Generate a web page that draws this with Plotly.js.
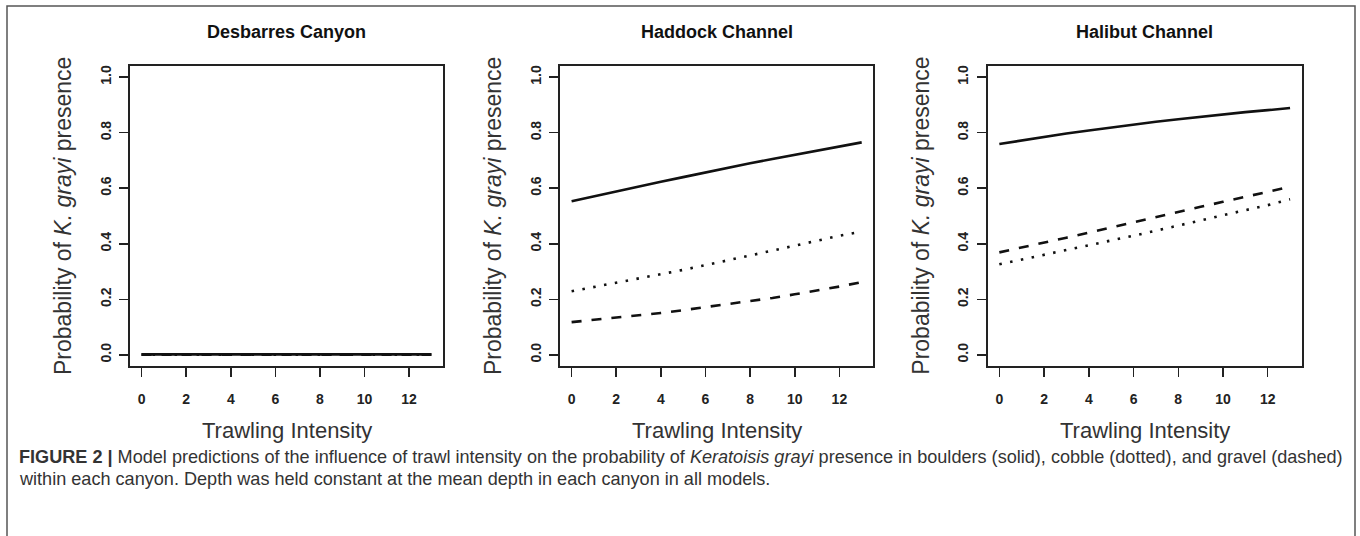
<!DOCTYPE html>
<html>
<head>
<meta charset="utf-8">
<script src="https://cdn.plot.ly/plotly-3.0.1.min.js"></script>
<style>
html,body{margin:0;padding:0;background:#fff;}
#chart{width:1360px;height:536px;}
</style>
</head>
<body>
<div id="chart"></div>
<script>
// ---- Data ----
const trawlIntensity = [0,1,2,3,4,5,6,7,8,9,10,11,12,13];
const panelTitles = ["Desbarres Canyon", "Haddock Channel", "Halibut Channel"];
const xTickVals = [0,2,4,6,8,10,12];
const yTickVals = [0,0.2,0.4,0.6,0.8,1.0];
const yTickText = ["0.0","0.2","0.4","0.6","0.8","1.0"];

// Desbarres Canyon (all substrates ~0)
const desbarresBoulders = [0.002,0.002,0.002,0.002,0.002,0.002,0.002,0.002,0.002,0.002,0.002,0.002,0.002,0.002];
const desbarresCobble   = [0.001,0.001,0.001,0.001,0.001,0.001,0.001,0.001,0.001,0.001,0.001,0.001,0.001,0.001];
const desbarresGravel   = [0.001,0.001,0.001,0.001,0.001,0.001,0.001,0.001,0.001,0.001,0.001,0.001,0.001,0.001];

// Haddock Channel
const haddockBoulders = [0.553,0.571,0.589,0.606,0.623,0.640,0.657,0.674,0.690,0.705,0.720,0.735,0.750,0.765];
const haddockCobble   = [0.229,0.244,0.259,0.274,0.290,0.306,0.323,0.340,0.357,0.375,0.393,0.411,0.429,0.444];
const haddockGravel   = [0.118,0.126,0.134,0.142,0.151,0.161,0.172,0.182,0.193,0.205,0.218,0.231,0.246,0.262];

// Halibut Channel
const halibutBoulders = [0.759,0.772,0.785,0.797,0.808,0.819,0.829,0.839,0.848,0.857,0.866,0.874,0.881,0.889];
const halibutCobble   = [0.326,0.343,0.359,0.376,0.394,0.411,0.429,0.447,0.466,0.484,0.502,0.521,0.539,0.560];
const halibutGravel   = [0.369,0.386,0.404,0.422,0.440,0.459,0.477,0.496,0.514,0.533,0.551,0.569,0.587,0.605];

const captionLine1 = "<b>FIGURE 2 |</b> Model predictions of the influence of trawl intensity on the probability of <i>Keratoisis grayi</i> presence in boulders (solid), cobble (dotted), and gravel (dashed)";
const captionLine2 = "within each canyon. Depth was held constant at the mean depth in each canyon in all models.";
const yTitle = "Probability of <i>K. grayi</i> presence";
const xTitle = "Trawling Intensity";

// ---- Layout geometry (pixels) ----
const W = 1360, H = 536;
const px = v => v / W;
const py = v => 1 - v / H;
const panelLeft  = [130, 560, 987.7];
const panelRight = [443, 873.3, 1301.7];
const plotTop = 66, plotBottom = 366;

const styles = {
  solid:  {color:'#111', width:2.6, dash:'solid'},
  dotted: {color:'#111', width:2.6, dash:'2.5px,8.5px'},
  dashed: {color:'#111', width:2.6, dash:'10px,10px'}
};

const series = [
  [desbarresBoulders, desbarresCobble, desbarresGravel],
  [haddockBoulders, haddockCobble, haddockGravel],
  [halibutBoulders, halibutCobble, halibutGravel]
];
const styleOrder = ['solid','dotted','dashed'];
const names = ['boulders','cobble','gravel'];

const traces = [];
series.forEach((grp, i) => {
  const sfx = i === 0 ? '' : String(i+1);
  [2,1,0].forEach(j => {
    traces.push({
      x: trawlIntensity, y: grp[j], type:'scatter', mode:'lines',
      name: names[j], showlegend:false, hoverinfo:'skip',
      line: styles[styleOrder[j]],
      xaxis: 'x'+sfx, yaxis: 'y'+sfx
    });
  });
});

const tickFont = {family:'Liberation Sans, Arial, sans-serif', size:14, color:'#222', weight:'bold'};
const layout = {
  width: W, height: H,
  margin: {l:0, r:0, t:0, b:0},
  paper_bgcolor:'#fff', plot_bgcolor:'#fff',
  showlegend:false,
  annotations: [],
  shapes: [
    {type:'rect', xref:'paper', yref:'paper', x0:px(7), x1:px(1355), y0:py(545), y1:py(6),
     line:{color:'#555', width:1.5}, fillcolor:'rgba(0,0,0,0)', layer:'below'}
  ]
};

for (let i = 0; i < 3; i++) {
  const sfx = i === 0 ? '' : String(i+1);
  layout['xaxis'+sfx] = {
    domain:[px(panelLeft[i]), px(panelRight[i])],
    anchor:'y'+sfx,
    range:[-0.52, 13.52], fixedrange:true,
    tickvals:xTickVals, ticks:'outside', ticklen:9, tickwidth:1.5, tickcolor:'#222',
    showline:true, mirror:true, linecolor:'#222', linewidth:1.8,
    showgrid:false, zeroline:false, tickfont:tickFont, ticklabelstandoff:10
  };
  layout['yaxis'+sfx] = {
    domain:[py(plotBottom), py(plotTop)],
    anchor:'x'+sfx,
    range:[-0.04, 1.04], fixedrange:true,
    tickvals:yTickVals, ticktext:yTickText, tickangle:-90,
    ticks:'outside', ticklen:9, tickwidth:1.5, tickcolor:'#222',
    showline:true, mirror:true, linecolor:'#222', linewidth:1.8,
    showgrid:false, zeroline:false, tickfont:tickFont, ticklabelstandoff:3
  };
  const cx = (panelLeft[i] + panelRight[i]) / 2;
  layout.annotations.push({
    text: panelTitles[i], xref:'paper', yref:'paper', x:px(cx), y:py(32),
    xanchor:'center', yanchor:'middle', showarrow:false,
    font:{family:'Liberation Sans, Arial, sans-serif', size:18, color:'#111', weight:'bold'}
  });
  layout.annotations.push({
    text: xTitle, xref:'paper', yref:'paper', x:px(cx), y:py(430),
    xanchor:'center', yanchor:'middle', showarrow:false,
    font:{family:'Liberation Sans, Arial, sans-serif', size:22, color:'#333'}
  });
  layout.annotations.push({
    text: yTitle, xref:'paper', yref:'paper', x:px(panelLeft[i]-67), y:py((plotTop+plotBottom)/2),
    xanchor:'center', yanchor:'middle', showarrow:false, textangle:-90,
    font:{family:'Liberation Sans, Arial, sans-serif', size:23, color:'#333'}
  });
}

layout.annotations.push({
  text: captionLine1, xref:'paper', yref:'paper', x:px(17), y:py(457),
  xanchor:'left', yanchor:'middle', showarrow:false, align:'left',
  font:{family:'Liberation Sans, Arial, sans-serif', size:18.1, color:'#333'}
});
layout.annotations.push({
  text: captionLine2, xref:'paper', yref:'paper', x:px(17), y:py(479),
  xanchor:'left', yanchor:'middle', showarrow:false, align:'left',
  font:{family:'Liberation Sans, Arial, sans-serif', size:18.1, color:'#333'}
});

Plotly.newPlot('chart', traces, layout, {staticPlot:true, displayModeBar:false});
</script>
</body>
</html>
